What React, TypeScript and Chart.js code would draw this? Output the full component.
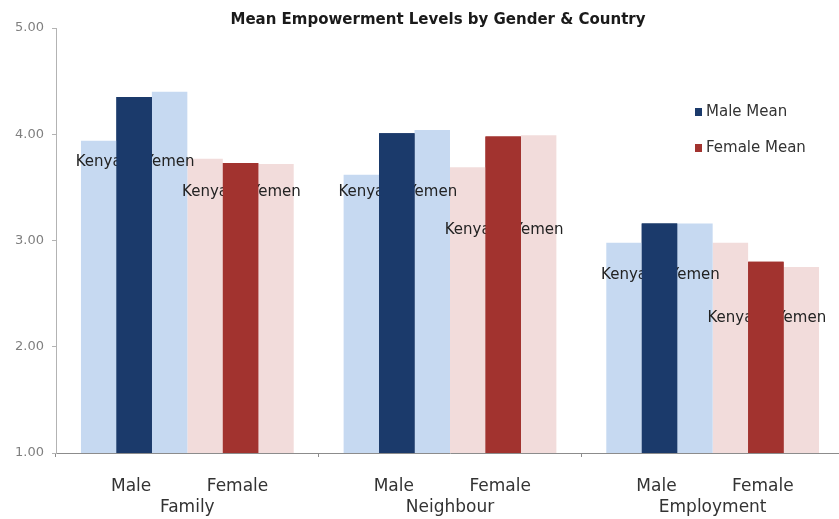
import React, { useEffect, useRef } from 'react';
import { Chart, registerables } from 'chart.js';

Chart.register(...registerables);

const chartTitle = 'Mean Empowerment Levels by Gender & Country';
const groups = ['Family', 'Neighbour', 'Employment'];
const genders = ['Male', 'Female'];
const countries = ['Kenya', 'Yemen'];

const maleKenya = [3.94, 3.62, 2.98];
const maleMean = [4.35, 4.01, 3.16];
const maleYemen = [4.4, 4.04, 3.16];
const femaleKenya = [3.77, 3.69, 2.98];
const femaleMean = [3.73, 3.98, 2.8];
const femaleYemen = [3.72, 3.99, 2.75];

// level (in axis units) at which the country labels sit
const maleLabelLevel = [3.74, 3.46, 2.67];
const femaleLabelLevel = [3.46, 3.1, 2.27];

const yMin = 1;
const yMax = 5;
const yStep = 1;

const DARK_BLUE = '#1B3A6B';
const LIGHT_BLUE = '#C6D9F1';
const DARK_RED = '#A2332F';
const LIGHT_RED = '#F2DCDB';
const FONT = '"DejaVu Sans", "Liberation Sans", sans-serif';

const overlayPlugin = {
  id: 'overlay',
  afterDatasetsDraw(chart: any) {
    const ctx = chart.ctx;
    const y = chart.scales.y;
    const area = chart.chartArea;
    ctx.save();
    ctx.font = `15px ${FONT}`;
    ctx.fillStyle = '#222222';
    ctx.textAlign = 'center';
    ctx.textBaseline = 'middle';
    const spec: [number, string, number[]][] = [
      [0, countries[0], maleLabelLevel],
      [2, countries[1], maleLabelLevel],
      [3, countries[0], femaleLabelLevel],
      [5, countries[1], femaleLabelLevel],
    ];
    spec.forEach(([di, text, levels]) => {
      const meta = chart.getDatasetMeta(di);
      meta.data.forEach((bar: any, g: number) => {
        ctx.fillText(text, bar.x, y.getPixelForValue(levels[g]));
      });
    });
    ctx.restore();
    // mean bars sit on top of the country labels
    ctx.save();
    ctx.beginPath();
    ctx.rect(area.left, area.top, area.right - area.left, area.bottom - area.top);
    ctx.clip();
    [1, 4].forEach((di) => {
      chart.getDatasetMeta(di).data.forEach((el: any) => el.draw(ctx, area));
    });
    ctx.restore();
  },
  afterDraw(chart: any) {
    const ctx = chart.ctx;
    const area = chart.chartArea;
    const x = chart.scales.x;
    ctx.save();
    // title
    ctx.font = `bold 15px ${FONT}`;
    ctx.fillStyle = '#1a1a1a';
    ctx.textAlign = 'center';
    ctx.textBaseline = 'alphabetic';
    ctx.fillText(chartTitle, 438, 24);

    // gender labels under the mean bars
    ctx.font = `17px ${FONT}`;
    ctx.fillStyle = '#333333';
    [1, 4].forEach((di, k) => {
      const meta = chart.getDatasetMeta(di);
      meta.data.forEach((bar: any) => {
        ctx.fillText(genders[k], bar.x - 3, area.bottom + 38);
      });
    });
    // group labels
    groups.forEach((g, i) => {
      ctx.fillText(g, x.getPixelForValue(i), area.bottom + 59);
    });

    // legend
    ctx.font = `15px ${FONT}`;
    ctx.textAlign = 'left';
    ctx.textBaseline = 'middle';
    [1, 4].forEach((di, k) => {
      const ds = chart.data.datasets[di];
      const ly = 112 + k * 36;
      ctx.fillStyle = ds.backgroundColor;
      ctx.fillRect(695, ly - 4, 7, 8);
      ctx.fillStyle = '#333333';
      ctx.fillText(ds.label, 706, ly);
    });
    ctx.restore();
  },
};

export default function App() {
  const ref = useRef<HTMLCanvasElement | null>(null);
  useEffect(() => {
    if (!ref.current) return;
    const mk = (label: string, data: number[], color: string) => ({
      label,
      data,
      backgroundColor: color,
      borderWidth: 0,
      categoryPercentage: 0.81,
      barPercentage: 1.0,
    });
    const chart = new Chart(ref.current, {
      type: 'bar',
      data: {
        labels: groups,
        datasets: [
          mk('Male Kenya', maleKenya, LIGHT_BLUE),
          mk('Male Mean', maleMean, DARK_BLUE),
          mk('Male Yemen', maleYemen, LIGHT_BLUE),
          mk('Female Kenya', femaleKenya, LIGHT_RED),
          mk('Female Mean', femaleMean, DARK_RED),
          mk('Female Yemen', femaleYemen, LIGHT_RED),
        ],
      },
      options: {
        animation: false,
        responsive: true,
        maintainAspectRatio: false,
        layout: { padding: { top: 28, right: 0, bottom: 0, left: 0 } },
        plugins: {
          legend: { display: false },
          title: { display: false },
          tooltip: { enabled: false },
        },
        scales: {
          x: {
            offset: true,
            grid: {
              offset: true,
              drawOnChartArea: false,
              drawTicks: true,
              tickLength: 4,
              color: '#8c8c8c',
            },
            border: { display: true, color: '#8c8c8c' },
            ticks: { display: false },
            afterFit: (s: any) => {
              s.height = 66;
            },
          },
          y: {
            min: yMin,
            max: yMax,
            grid: {
              drawOnChartArea: false,
              drawTicks: true,
              tickLength: 4,
              color: '#b3b3b3',
            },
            border: { display: true, color: '#b3b3b3' },
            ticks: {
              stepSize: yStep,
              padding: 8,
              color: '#7f7f7f',
              font: { family: FONT, size: 13 },
              callback: (v: any) => Number(v).toFixed(2),
            },
            afterFit: (s: any) => {
              s.width = 56;
            },
          },
        },
      },
      plugins: [overlayPlugin],
    });
    return () => chart.destroy();
  }, []);

  return (
    <div
      style={{
        position: 'fixed',
        left: 0,
        top: 0,
        width: 839,
        height: 519,
        overflow: 'hidden',
        background: '#ffffff',
      }}
    >
      <div style={{ position: 'relative', width: 844, height: 519 }}>
        <canvas ref={ref} />
      </div>
    </div>
  );
}
